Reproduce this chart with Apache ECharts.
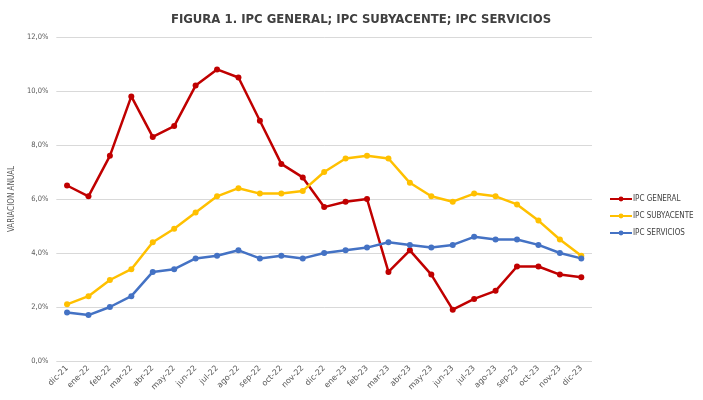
<!DOCTYPE html>
<html>
<head>
<meta charset="utf-8">
<script src="https://cdn.jsdelivr.net/npm/echarts@6/dist/echarts.min.js"></script>
<style>
html,body{margin:0;padding:0;background:#fff;}
#main{width:703px;height:400px;}
</style>
</head>
<body>
<div id="main"></div>
<script>
let meses=['dic-21','ene-22','feb-22','mar-22','abr-22','may-22','jun-22','jul-22','ago-22','sep-22','oct-22','nov-22',
	'dic-22','ene-23','feb-23','mar-23','abr-23','may-23','jun-23','jul-23','ago-23','sep-23','oct-23','nov-23','dic-23'];
let general=[6.5,6.1,7.6,9.8,8.3,8.7,10.2,10.8,10.5,8.9,7.3,6.8,5.7,5.9,6.0,3.3,4.1,3.2,1.9,2.3,2.6,3.5,3.5,3.2,3.1];
let subyacente=[2.1,2.4,3.0,3.4,4.4,4.9,5.5,6.1,6.4,6.2,6.2,6.3,7.0,7.5,7.6,7.5,6.6,6.1,5.9,6.2,6.1,5.8,5.2,4.5,3.9];
let servicios=[1.8,1.7,2.0,2.4,3.3,3.4,3.8,3.9,4.1,3.8,3.9,3.8,4.0,4.1,4.2,4.4,4.3,4.2,4.3,4.6,4.5,4.5,4.3,4.0,3.8];

let fuente='"Liberation Sans Narrow","DejaVu Sans Condensed",sans-serif';

function serie(nombre,datos,color){
	return {
		name:nombre,
		type:'line',
		data:datos,
		symbol:'circle',
		symbolSize:6,
		lineStyle:{color:color,width:2.5},
		itemStyle:{color:color}
	};
}

var myChart=echarts.init(document.getElementById('main'));
var option={
	animation:false,
	title:{
		text:'FIGURA 1. IPC GENERAL; IPC SUBYACENTE; IPC SERVICIOS',
		left:356,
		top:8,
		textAlign:'center',
		textStyle:{fontFamily:fuente,fontSize:13,fontWeight:'bold',color:'#404040'}
	},
	legend:{
		orient:'vertical',
		left:604,
		top:190,
		itemWidth:22,
		itemHeight:6,
		itemGap:9,
		textStyle:{fontFamily:fuente,fontSize:8,color:'#404040',padding:[0,0,0,-4]},
		data:['IPC GENERAL','IPC SUBYACENTE','IPC SERVICIOS']
	},
	grid:{left:53,right:111,top:37,bottom:39},
	xAxis:{
		type:'category',
		data:meses,
		boundaryGap:true,
		axisLine:{show:false},
		axisTick:{show:false},
		axisLabel:{rotate:45,fontFamily:'"DejaVu Sans",sans-serif',fontSize:8,color:'#595959',interval:0,margin:6}
	},
	yAxis:{
		type:'value',
		min:0,
		max:12,
		interval:2,
		name:'VARIACION ANUAL',
		nameLocation:'middle',
		nameGap:34,
		nameTextStyle:{fontFamily:fuente,fontSize:8,color:'#595959'},
		axisLabel:{
			fontFamily:fuente,fontSize:7.5,color:'#595959',margin:8,
			formatter:function(v){return v.toFixed(1).replace('.',',')+'%';}
		},
		splitLine:{lineStyle:{color:'#d9d9d9',width:1}}
	},
	series:[
		serie('IPC GENERAL',general,'#C00000'),
		serie('IPC SUBYACENTE',subyacente,'#FFC000'),
		serie('IPC SERVICIOS',servicios,'#4472C4')
	]
};
myChart.setOption(option);
</script>
</body>
</html>
